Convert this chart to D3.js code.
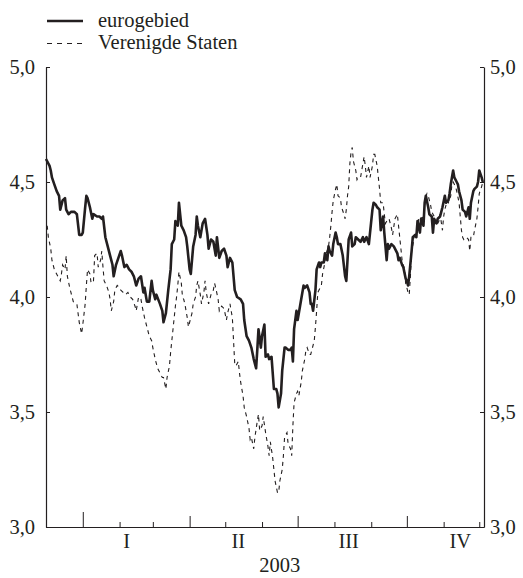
<!DOCTYPE html>
<html>
<head>
<meta charset="utf-8">
<script src="https://cdn.jsdelivr.net/npm/d3@7"></script>
<style>
  body { margin: 0; background: #fff; }
  text { font-family: "Liberation Serif", "Times New Roman", serif; fill: #231f20; }
</style>
</head>
<body>
<svg id="chart" width="523" height="578"></svg>
<script>
// Ten-year government bond yields (%), euro area vs United States
const seriesNames = ["eurogebied", "Verenigde Staten"];

const euroDates = [
  "2002-12-01","2002-12-04","2002-12-05","2002-12-06","2002-12-08","2002-12-10","2002-12-12","2002-12-13","2002-12-15","2002-12-17",
  "2002-12-18","2002-12-20","2002-12-22","2002-12-25","2002-12-27","2002-12-29","2002-12-31","2003-01-01","2003-01-03","2003-01-04",
  "2003-01-05","2003-01-07","2003-01-09","2003-01-10","2003-01-13","2003-01-15","2003-01-17","2003-01-18","2003-01-20","2003-01-22",
  "2003-01-24","2003-01-26","2003-01-27","2003-01-29","2003-01-31","2003-02-02","2003-02-03","2003-02-05","2003-02-07","2003-02-09",
  "2003-02-11","2003-02-13","2003-02-15","2003-02-17","2003-02-19","2003-02-21","2003-02-22","2003-02-24","2003-02-26","2003-02-28",
  "2003-03-01","2003-03-03","2003-03-04","2003-03-07","2003-03-09","2003-03-10","2003-03-12","2003-03-14","2003-03-16","2003-03-17",
  "2003-03-19","2003-03-20","2003-03-22","2003-03-23","2003-03-25","2003-03-27","2003-03-29","2003-03-30","2003-04-01","2003-04-02",
  "2003-04-04","2003-04-06","2003-04-07","2003-04-08","2003-04-10","2003-04-12","2003-04-14","2003-04-16","2003-04-17","2003-04-19",
  "2003-04-21","2003-04-23","2003-04-24","2003-04-26","2003-04-28","2003-04-30","2003-05-02","2003-05-03","2003-05-05","2003-05-07",
  "2003-05-09","2003-05-11","2003-05-14","2003-05-16","2003-05-17","2003-05-19","2003-05-21","2003-05-23","2003-05-25","2003-05-27",
  "2003-05-28","2003-05-29","2003-05-31","2003-06-01","2003-06-03","2003-06-04","2003-06-06","2003-06-07","2003-06-09","2003-06-11",
  "2003-06-13","2003-06-14","2003-06-15","2003-06-17","2003-06-18","2003-06-20","2003-06-21","2003-06-23","2003-06-25","2003-06-26",
  "2003-06-27","2003-06-28","2003-06-30","2003-07-01","2003-07-03","2003-07-04","2003-07-06","2003-07-07","2003-07-09","2003-07-11",
  "2003-07-12","2003-07-13","2003-07-14","2003-07-16","2003-07-17","2003-07-19","2003-07-20","2003-07-21","2003-07-23","2003-07-24",
  "2003-07-26","2003-07-27","2003-07-28","2003-07-30","2003-07-31","2003-08-02","2003-08-03","2003-08-04","2003-08-06","2003-08-08",
  "2003-08-10","2003-08-11","2003-08-12","2003-08-13","2003-08-15","2003-08-16","2003-08-18","2003-08-19","2003-08-21","2003-08-23",
  "2003-08-25","2003-08-26","2003-08-28","2003-08-30","2003-08-31","2003-09-02","2003-09-03","2003-09-05","2003-09-06","2003-09-08",
  "2003-09-09","2003-09-11","2003-09-12","2003-09-14","2003-09-15","2003-09-16","2003-09-18","2003-09-20","2003-09-23","2003-09-24",
  "2003-09-25","2003-09-27","2003-09-28","2003-09-30","2003-10-01","2003-10-02","2003-10-03","2003-10-05","2003-10-06","2003-10-08",
  "2003-10-09","2003-10-10","2003-10-12","2003-10-13","2003-10-15","2003-10-16","2003-10-17","2003-10-19","2003-10-20","2003-10-22",
  "2003-10-23","2003-10-24","2003-10-26","2003-10-27","2003-10-29","2003-10-30","2003-10-31","2003-11-02","2003-11-03","2003-11-05",
  "2003-11-06","2003-11-07","2003-11-09","2003-11-10","2003-11-12","2003-11-13","2003-11-14","2003-11-16","2003-11-17","2003-11-19",
  "2003-11-20","2003-11-22","2003-11-23","2003-11-24","2003-11-26","2003-11-27","2003-11-29","2003-11-30","2003-12-01","2003-12-03",
  "2003-12-04"
];
const euroValues = [
  4.60,4.57,4.55,4.52,4.49,4.46,4.44,4.38,4.42,4.43,
  4.38,4.36,4.37,4.37,4.36,4.27,4.27,4.28,4.39,4.44,
  4.43,4.39,4.34,4.36,4.35,4.35,4.34,4.35,4.26,4.22,
  4.18,4.14,4.09,4.14,4.17,4.20,4.18,4.13,4.14,4.12,
  4.11,4.09,4.05,4.08,4.09,4.02,4.04,3.98,3.98,4.07,
  4.03,3.99,4.01,3.97,3.94,3.89,3.93,4.03,4.12,4.23,
  4.25,4.33,4.31,4.41,4.31,4.29,4.26,4.22,4.12,4.10,
  4.22,4.27,4.35,4.31,4.26,4.32,4.34,4.27,4.21,4.25,
  4.24,4.18,4.26,4.17,4.20,4.21,4.18,4.13,4.17,4.15,
  4.03,4.00,3.99,3.97,3.90,3.83,3.81,3.78,3.73,3.69,
  3.77,3.86,3.78,3.83,3.88,3.74,3.75,3.73,3.74,3.60,
  3.60,3.58,3.52,3.58,3.68,3.78,3.78,3.77,3.77,3.78,
  3.72,3.86,3.94,3.90,3.96,3.99,4.05,4.04,4.05,4.02,
  3.97,3.97,3.94,4.03,4.12,4.15,4.13,4.15,4.15,4.19,
  4.16,4.22,4.20,4.18,4.23,4.28,4.26,4.23,4.23,4.18,
  4.09,4.07,4.16,4.25,4.28,4.22,4.23,4.26,4.25,4.24,
  4.26,4.24,4.26,4.23,4.28,4.38,4.41,4.40,4.39,4.38,
  4.29,4.35,4.28,4.16,4.23,4.21,4.23,4.22,4.19,4.16,
  4.17,4.14,4.13,4.08,4.07,4.05,4.09,4.20,4.26,4.27,
  4.26,4.33,4.28,4.34,4.31,4.41,4.44,4.39,4.36,4.35,
  4.28,4.34,4.32,4.34,4.35,4.37,4.39,4.44,4.41,4.42,
  4.45,4.49,4.55,4.52,4.50,4.49,4.46,4.42,4.38,4.37,
  4.35,4.39,4.34,4.41,4.46,4.47,4.48,4.50,4.55,4.52,
  4.50
];

const usDates = [
  "2002-12-02","2002-12-03","2002-12-05","2002-12-06","2002-12-08","2002-12-11","2002-12-13","2002-12-14","2002-12-15","2002-12-17",
  "2002-12-18","2002-12-19","2002-12-21","2002-12-22","2002-12-24","2002-12-27","2002-12-28","2002-12-29","2002-12-31","2003-01-01",
  "2003-01-03","2003-01-04","2003-01-05","2003-01-07","2003-01-08","2003-01-10","2003-01-11","2003-01-13","2003-01-14","2003-01-16",
  "2003-01-17","2003-01-18","2003-01-19","2003-01-21","2003-01-23","2003-01-24","2003-01-25","2003-01-27","2003-01-28","2003-01-30",
  "2003-02-01","2003-02-02","2003-02-04","2003-02-06","2003-02-08","2003-02-10","2003-02-12","2003-02-14","2003-02-15","2003-02-17",
  "2003-02-19","2003-02-20","2003-02-22","2003-02-24","2003-02-26","2003-02-28","2003-03-01","2003-03-03","2003-03-05","2003-03-07",
  "2003-03-09","2003-03-10","2003-03-12","2003-03-13","2003-03-15","2003-03-16","2003-03-17","2003-03-18","2003-03-19","2003-03-20",
  "2003-03-21","2003-03-22","2003-03-23","2003-03-25","2003-03-26","2003-03-27","2003-03-28","2003-03-30","2003-03-31","2003-04-01",
  "2003-04-03","2003-04-04","2003-04-06","2003-04-07","2003-04-08","2003-04-10","2003-04-11","2003-04-13","2003-04-14","2003-04-15",
  "2003-04-17","2003-04-19","2003-04-21","2003-04-22","2003-04-23","2003-04-25","2003-04-26","2003-04-28","2003-04-30","2003-05-02",
  "2003-05-03","2003-05-05","2003-05-07","2003-05-08","2003-05-09","2003-05-10","2003-05-12","2003-05-13","2003-05-14","2003-05-16",
  "2003-05-17","2003-05-19","2003-05-21","2003-05-22","2003-05-23","2003-05-25","2003-05-26","2003-05-28","2003-05-29","2003-05-30",
  "2003-06-01","2003-06-02","2003-06-04","2003-06-06","2003-06-07","2003-06-08","2003-06-10","2003-06-11","2003-06-12","2003-06-14",
  "2003-06-15","2003-06-16","2003-06-18","2003-06-19","2003-06-20","2003-06-22","2003-06-23","2003-06-25","2003-06-26","2003-06-27",
  "2003-06-28","2003-06-30","2003-07-01","2003-07-02","2003-07-04","2003-07-05","2003-07-07","2003-07-08","2003-07-09","2003-07-11",
  "2003-07-12","2003-07-15","2003-07-16","2003-07-17","2003-07-18","2003-07-19","2003-07-21","2003-07-22","2003-07-24","2003-07-25",
  "2003-07-27","2003-07-28","2003-07-29","2003-07-30","2003-07-31","2003-08-02","2003-08-03","2003-08-04","2003-08-06","2003-08-07",
  "2003-08-09","2003-08-10","2003-08-11","2003-08-12","2003-08-13","2003-08-14","2003-08-15","2003-08-16","2003-08-17","2003-08-19",
  "2003-08-20","2003-08-21","2003-08-23","2003-08-24","2003-08-26","2003-08-27","2003-08-28","2003-08-30","2003-08-31","2003-09-02",
  "2003-09-03","2003-09-04","2003-09-06","2003-09-07","2003-09-08","2003-09-09","2003-09-11","2003-09-12","2003-09-13","2003-09-15",
  "2003-09-16","2003-09-18","2003-09-19","2003-09-21","2003-09-23","2003-09-24","2003-09-25","2003-09-26","2003-09-27","2003-09-29",
  "2003-09-30","2003-10-02","2003-10-03","2003-10-04","2003-10-05","2003-10-07","2003-10-08","2003-10-10","2003-10-11","2003-10-12",
  "2003-10-14","2003-10-15","2003-10-17","2003-10-18","2003-10-19","2003-10-21","2003-10-22","2003-10-24","2003-10-25","2003-10-26",
  "2003-10-28","2003-10-29","2003-10-31","2003-11-01","2003-11-02","2003-11-04","2003-11-05","2003-11-07","2003-11-08","2003-11-09",
  "2003-11-11","2003-11-12","2003-11-14","2003-11-15","2003-11-16","2003-11-17","2003-11-18","2003-11-20","2003-11-22","2003-11-23",
  "2003-11-24","2003-11-26","2003-11-27","2003-11-29","2003-11-30","2003-12-01","2003-12-03","2003-12-04"
];
const usValues = [
  4.31,4.26,4.21,4.16,4.12,4.09,4.07,4.10,4.14,4.12,
  4.18,4.09,4.04,4.02,3.98,3.97,3.93,3.89,3.84,3.88,
  3.97,4.05,4.12,4.10,4.06,4.07,4.18,4.19,4.13,4.16,
  4.20,4.13,4.07,4.05,4.02,3.99,3.94,3.98,4.03,4.05,
  4.04,4.03,4.02,4.01,4.02,4.00,3.99,3.96,3.94,4.00,
  3.99,3.96,3.91,3.87,3.83,3.81,3.78,3.73,3.69,3.67,
  3.65,3.65,3.60,3.65,3.70,3.76,3.81,3.86,3.91,3.96,
  4.00,4.05,4.11,4.06,4.00,3.99,3.97,3.91,3.87,3.89,
  3.93,3.97,4.00,4.05,4.07,4.01,3.97,4.02,4.07,4.02,
  3.97,4.01,4.03,4.06,4.04,3.99,3.94,3.96,3.95,3.90,
  3.93,3.97,3.91,3.81,3.71,3.70,3.72,3.67,3.63,3.57,
  3.52,3.48,3.43,3.38,3.39,3.34,3.39,3.46,3.49,3.42,
  3.44,3.48,3.41,3.35,3.31,3.37,3.30,3.25,3.20,3.15,
  3.15,3.20,3.25,3.31,3.39,3.41,3.36,3.34,3.31,3.44,
  3.54,3.58,3.59,3.57,3.63,3.68,3.73,3.77,3.78,3.75,
  3.75,3.81,3.87,3.94,4.02,4.03,4.05,4.10,4.15,4.19,
  4.22,4.26,4.31,4.37,4.42,4.47,4.49,4.44,4.43,4.39,
  4.36,4.34,4.38,4.44,4.48,4.58,4.63,4.65,4.59,4.55,
  4.51,4.52,4.52,4.55,4.61,4.57,4.52,4.57,4.52,4.57,
  4.62,4.62,4.57,4.52,4.47,4.41,4.41,4.36,4.32,4.34,
  4.34,4.30,4.27,4.34,4.36,4.31,4.26,4.21,4.16,4.12,
  4.06,4.02,4.01,4.09,4.20,4.25,4.26,4.29,4.34,4.35,
  4.34,4.36,4.44,4.45,4.44,4.40,4.37,4.35,4.32,4.31,
  4.33,4.36,4.29,4.35,4.38,4.42,4.41,4.44,4.49,4.50,
  4.48,4.46,4.41,4.35,4.29,4.26,4.25,4.26,4.25,4.20,
  4.26,4.26,4.29,4.34,4.39,4.45,4.48,4.50
];

const yTicks = [3.0, 3.5, 4.0, 4.5, 5.0];
const quarterLabels = ["I", "II", "III", "IV"];
const quarterLabelDates = ["2003-02-07", "2003-05-12", "2003-08-13", "2003-11-15"];
const yearLabel = "2003";
const yearLabelDate = "2003-06-16";
const periodStart = "2002-12-01";
const periodEnd = "2003-12-05";

const ink = "#231f20";
const parse = d3.utcParse("%Y-%m-%d");

const euro = euroDates.map((d, i) => ({ date: parse(d), value: euroValues[i] }));
const us = usDates.map((d, i) => ({ date: parse(d), value: usValues[i] }));

const plotLeft = 46, plotRight = 484, plotTop = 67, plotBottom = 527;

const x = d3.scaleUtc().domain([parse(periodStart), parse(periodEnd)]).range([plotLeft, plotRight]);
const y = d3.scaleLinear().domain([3, 5]).range([plotBottom, plotTop]);

const svg = d3.select("#chart");
const fmt = v => v.toFixed(1).replace(".", ",");

// Left value axis, ticks pointing into the plot
const leftAxis = svg.append("g")
  .attr("transform", `translate(${plotLeft},0)`)
  .call(d3.axisLeft(y).tickValues(yTicks).tickFormat(fmt).tickSizeInner(-4).tickSizeOuter(0).tickPadding(11));

// Right value axis, mirrored
const rightAxis = svg.append("g")
  .attr("transform", `translate(${plotRight},0)`)
  .call(d3.axisRight(y).tickValues(yTicks).tickFormat(fmt).tickSizeInner(-4).tickSizeOuter(0).tickPadding(6));

[leftAxis, rightAxis].forEach(g => {
  g.select(".domain").attr("stroke", ink).attr("stroke-width", 1.2);
  g.selectAll(".tick line").attr("stroke", ink).attr("stroke-width", 1);
  g.selectAll(".tick text").attr("font-size", 20.5).attr("fill", ink).attr("dy", "0.34em");
});

// Time axis: month ticks, taller at quarter starts and tallest at the new year
const monthTicks = d3.utcMonth.range(d3.utcMonth.ceil(x.domain()[0]), x.domain()[1]);
const timeAxis = svg.append("g")
  .attr("transform", `translate(0,${plotBottom})`)
  .call(d3.axisBottom(x).tickValues(monthTicks).tickFormat("").tickSizeOuter(0).tickSizeInner(-5));
timeAxis.select(".domain").attr("stroke", ink).attr("stroke-width", 1.2);
timeAxis.selectAll(".tick line")
  .attr("stroke", ink).attr("stroke-width", 1)
  .attr("y2", d => d.getUTCMonth() === 0 ? -15 : (d.getUTCMonth() % 3 === 0 ? -11 : -5));

svg.append("g").selectAll("text")
  .data(quarterLabels)
  .join("text")
  .attr("x", (d, i) => x(parse(quarterLabelDates[i])))
  .attr("y", 548)
  .attr("text-anchor", "middle")
  .attr("font-size", 20.5)
  .text(d => d);

svg.append("text")
  .attr("x", x(parse(yearLabelDate)))
  .attr("y", 572)
  .attr("text-anchor", "middle")
  .attr("font-size", 20.5)
  .text(yearLabel);

// Series lines
const line = d3.line().x(d => x(d.date)).y(d => y(d.value));

svg.append("path")
  .datum(us)
  .attr("fill", "none")
  .attr("stroke", ink)
  .attr("stroke-width", 1.1)
  .attr("stroke-dasharray", "4,4")
  .attr("d", line);

svg.append("path")
  .datum(euro)
  .attr("fill", "none")
  .attr("stroke", ink)
  .attr("stroke-width", 2.6)
  .attr("stroke-linejoin", "round")
  .attr("d", line);

// Legend
const legend = svg.append("g");
const legendRows = [
  { name: seriesNames[0], y: 21, width: 2.6, dash: null, textY: 27 },
  { name: seriesNames[1], y: 43.5, width: 1.1, dash: "5,5", textY: 49 }
];
legendRows.forEach(r => {
  legend.append("line")
    .attr("x1", 47).attr("x2", 83)
    .attr("y1", r.y).attr("y2", r.y)
    .attr("stroke", ink)
    .attr("stroke-width", r.width)
    .attr("stroke-dasharray", r.dash);
  legend.append("text")
    .attr("x", 98).attr("y", r.textY)
    .attr("font-size", 20.5)
    .text(r.name);
});
</script>
</body>
</html>
